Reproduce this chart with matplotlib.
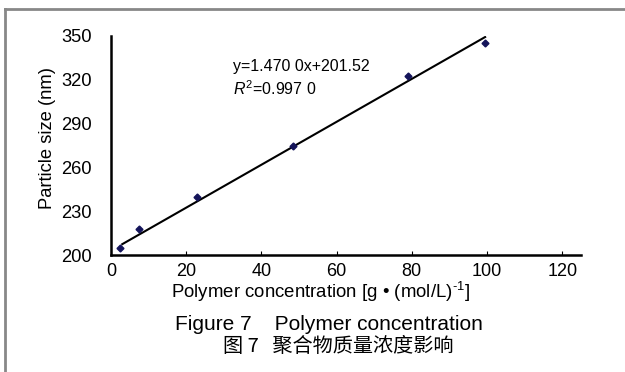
import numpy as np
import matplotlib
matplotlib.use("Agg")
from matplotlib import pyplot as plt
from matplotlib.lines import Line2D

# Data
conc = [2.5, 7.5, 23.0, 48.5, 79.0, 99.5]
size = [204.5, 217.5, 239.5, 274.5, 322.5, 345.0]
fit_slope = 1.4700
fit_intercept = 201.52
x_ticks = [0, 20, 40, 60, 80, 100, 120]
y_ticks = [200, 230, 260, 290, 320, 350]

plt.rcParams['font.family'] = ['Liberation Sans', 'Noto Sans CJK SC', 'DejaVu Sans']
plt.rcParams['mathtext.fontset'] = 'custom'
plt.rcParams['mathtext.rm'] = 'Liberation Sans'
plt.rcParams['mathtext.it'] = 'Liberation Sans:italic'

fig = plt.figure(figsize=(6.25, 3.72), dpi=100)
W, H = 625, 372
ax = fig.add_axes([111 / W, 1 - 255 / H, (581 - 111) / W, (255 - 36) / H])

# Scatter points and trend line
ax.plot(conc, size, linestyle='none', marker='D', markersize=3.5,
        color='#14145a', zorder=3)
x_fit = np.array([min(conc) + 0.5, max(conc)])
ax.plot(x_fit, fit_slope * x_fit + fit_intercept + 1.5, color='black', lw=1.5, zorder=2)

ax.set_xlim(0, 125)
ax.set_ylim(200, 350)
ax.set_xticks(x_ticks)
ax.set_yticks(y_ticks)
ax.tick_params(axis='x', direction='in', length=3, width=0.8, labelsize=13, pad=6)
ax.tick_params(axis='y', length=0, labelsize=13.2, pad=14)

for s in ['top', 'right']:
    ax.spines[s].set_visible(False)
ax.spines['left'].set_linewidth(1.8)
ax.spines['bottom'].set_linewidth(1.8)

ax.text(0.26, 0.86, 'y=1.470 0x+201.52', transform=ax.transAxes,
        fontsize=11.5, va='center', ha='left')
ax.text(0.26, 0.76, r'$\mathit{R}^{2}$=0.997 0', transform=ax.transAxes,
        fontsize=11.5, va='center', ha='left')

# Axis labels placed in figure pixel coordinates
fig.text(48 / W, 1 - 138 / H, 'Particle size (nm)', rotation=90,
         ha='center', va='center', fontsize=13.2)
fig.text(320 / W, 1 - 292 / H, r'Polymer concentration [g • (mol/L)$^{\text{-}1}$]',
         ha='center', va='center', fontsize=13.4)

# Captions
fig.text(329 / W, 1 - 324 / H, 'Figure 7    Polymer concentration',
         ha='center', va='center', fontsize=15)
fig.text(338 / W, 1 - 347 / H, '图 7   聚合物质量浓度影响',
         ha='center', va='center', fontsize=14.5,
         family=['Noto Sans CJK SC', 'DejaVu Sans'])

# Grey frame (top and left edges)
fig.add_artist(Line2D([5 / W, 5 / W], [0, 1 - 9 / H], color='#888888', lw=2,
                      transform=fig.transFigure))
fig.add_artist(Line2D([5 / W, 1], [1 - 9 / H, 1 - 9 / H], color='#888888', lw=2,
                      transform=fig.transFigure))

fig.savefig('out.png', dpi=100)
